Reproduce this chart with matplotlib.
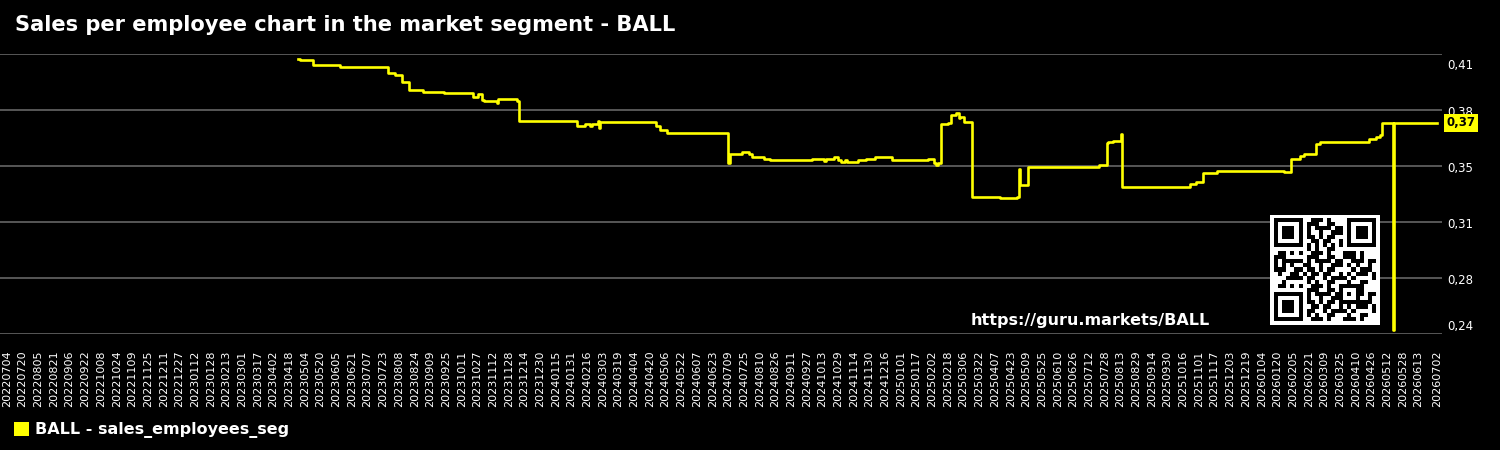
import matplotlib
matplotlib.use("Agg")
import matplotlib.pyplot as plt
import matplotlib.dates as mdates
from matplotlib.patches import Patch
from matplotlib.transforms import ScaledTranslation
import numpy as np
import pandas as pd

title = "Sales per employee chart in the market segment - BALL"
series_name = "BALL - sales_employees_seg"
url = "https://guru.markets/BALL"

# change points of the series (value holds until the next date)
dates = [
    "2023-04-27", "2023-04-29", "2023-05-12", "2023-06-09", "2023-07-28", "2023-08-04",
    "2023-08-11", "2023-08-18", "2023-09-01", "2023-09-23", "2023-10-23", "2023-10-28",
    "2023-11-01", "2023-11-03", "2023-11-16", "2023-11-17", "2023-12-06", "2023-12-08",
    "2024-02-06", "2024-02-14", "2024-02-19", "2024-02-21", "2024-02-27", "2024-02-28",
    "2024-02-29", "2024-04-26", "2024-04-30", "2024-05-07", "2024-07-09", "2024-07-11",
    "2024-07-23", "2024-07-30", "2024-08-02", "2024-08-14", "2024-08-20", "2024-10-02",
    "2024-10-15", "2024-10-17", "2024-10-25", "2024-10-29", "2024-11-01", "2024-11-05",
    "2024-11-07", "2024-11-18", "2024-11-26", "2024-12-06", "2024-12-23", "2025-01-29",
    "2025-02-04", "2025-02-06", "2025-02-08", "2025-02-11", "2025-02-18", "2025-02-21",
    "2025-02-26", "2025-03-01", "2025-03-02", "2025-03-06", "2025-03-15", "2025-04-12",
    "2025-04-29", "2025-05-02", "2025-05-03", "2025-05-11", "2025-07-22", "2025-07-30",
    "2025-07-31", "2025-08-05", "2025-08-14", "2025-08-15", "2025-10-23", "2025-10-29",
    "2025-11-05", "2025-11-19", "2026-01-27", "2026-02-03", "2026-02-12", "2026-02-16",
    "2026-02-28", "2026-03-05", "2026-04-24", "2026-05-01", "2026-05-05", "2026-05-07",
    "2026-05-18", "2026-05-19", "2026-07-02",
]
values = [
    0.4118, 0.4108, 0.4077, 0.4067, 0.4026, 0.4015,
    0.3974, 0.3923, 0.3913, 0.3905, 0.3882, 0.3898,
    0.3861, 0.3855, 0.3845, 0.3868, 0.3857, 0.3734,
    0.3703, 0.3715, 0.3701, 0.3714, 0.3734, 0.3690,
    0.3724, 0.3703, 0.3677, 0.3662, 0.3472, 0.3532,
    0.3541, 0.3533, 0.3510, 0.3502, 0.3490, 0.3500,
    0.3488, 0.3500, 0.3510, 0.3496, 0.3480, 0.3490,
    0.3480, 0.3490, 0.3500, 0.3510, 0.3490, 0.3500,
    0.3472, 0.3461, 0.3473, 0.3714, 0.3722, 0.3773,
    0.3784, 0.3749, 0.3755, 0.3724, 0.3266, 0.3256,
    0.3266, 0.3435, 0.3336, 0.3451, 0.3461, 0.3595,
    0.3605, 0.3613, 0.3656, 0.3327, 0.3344, 0.3358,
    0.3410, 0.3428, 0.3420, 0.3500, 0.3516, 0.3531,
    0.3592, 0.3603, 0.3621, 0.3634, 0.3650, 0.3722,
    0.2445, 0.3722, 0.3722,
]

tick_start = "2022-07-04"
tick_step = "16D"
tick_last = "2026-07-02"
x_range = ("2022-06-27", "2026-07-07")
y_range = (0.2421, 0.4146)

x = pd.to_datetime(dates)
last = pd.Timestamp(tick_last)
ticks = [t for t in pd.date_range(tick_start, tick_last, freq=tick_step)
         if t <= last - pd.Timedelta(tick_step)]
ticks.append(last)

fig = plt.figure(figsize=(15, 4.5), dpi=100, facecolor="black")
ax = fig.add_axes([0, 116 / 450, 1442 / 1500, 280 / 450], facecolor="black")

ax.plot(x, values, color="#ffff00", lw=1.9, drawstyle="steps-post", zorder=3)

ax.set_xlim(pd.Timestamp(x_range[0]), pd.Timestamp(x_range[1]))
ax.set_ylim(*y_range)
ax.set_yticks(np.linspace(y_range[0], y_range[1], 6))
ax.yaxis.set_major_formatter(lambda v, _: f"{v:.2f}".replace(".", ","))
ax.yaxis.tick_right()
ax.grid(axis="y", color="#666666", lw=1.2)
ax.set_xticks(ticks)
ax.xaxis.set_major_formatter(mdates.DateFormatter("%Y%m%d"))
ax.tick_params(axis="x", colors="white", labelsize=8, length=0, pad=12, labelrotation=90)
ax.tick_params(axis="y", colors="white", labelsize=8.5, length=0, pad=4)
for s in ax.spines.values():
    s.set_visible(False)

# nudge the y labels: edge labels move inside the plot area
ylabels = ax.get_yticklabels()
shifts = [9, -1, -1, -1, -1, -10]
for lab, dy in zip(ylabels, shifts):
    lab.set_transform(lab.get_transform() + ScaledTranslation(0, dy / 100, fig.dpi_scale_trans))

# last value marker
ax.annotate(f"{values[-1]:.2f}".replace(".", ","), xy=(1.0, values[-1]),
            xycoords=("axes fraction", "data"), xytext=(3, 0), textcoords="offset points",
            va="center", ha="left", fontsize=8.5, fontweight="bold", color="black",
            bbox=dict(boxstyle="square,pad=0.2", fc="#ffff00", ec="none"),
            annotation_clip=False, zorder=10)

fig.text(15 / 1500, 1 - 25 / 450, title, color="white", fontsize=15.1,
         fontweight="bold", va="center", ha="left")
fig.text(971 / 1500, 1 - 320 / 450, url, color="white", fontsize=11.5,
         fontweight="bold", va="center", ha="left")

fig.legend(handles=[Patch(facecolor="#ffff00")], labels=[series_name],
           loc="center left", bbox_to_anchor=(14 / 1500, 1 - 430 / 450),
           frameon=False, handlelength=0.95, handleheight=0.95, handletextpad=0.35,
           borderpad=0, borderaxespad=0, labelcolor="white",
           prop={"weight": "bold", "size": 11.5})

# QR-like badge
n = 25
bits = "".join(f"{b:08b}" for b in url.encode()) * 20
qr = np.array([int(c) for c in bits[: n * n]]).reshape(n, n)
def finder(r, c):
    qr[max(r - 1, 0):r + 8, max(c - 1, 0):c + 8] = 0
    qr[r:r + 7, c:c + 7] = 1
    qr[r + 1:r + 6, c + 1:c + 6] = 0
    qr[r + 2:r + 5, c + 2:c + 5] = 1
finder(0, 0)
finder(0, n - 7)
finder(n - 7, 0)
qr[6, 8:n - 8] = np.arange(8, n - 8) % 2 == 0
qr[8:n - 8, 6] = np.arange(8, n - 8) % 2 == 0
qr[n - 9:n - 4, n - 9:n - 4] = 1
qr[n - 8:n - 5, n - 8:n - 5] = 0
qr[n - 7, n - 7] = 1
qax = fig.add_axes([1270 / 1500, 1 - 325 / 450, 110 / 1500, 110 / 450])
qax.imshow(np.pad(qr, 1), cmap="gray_r", interpolation="nearest")
qax.axis("off")

fig.savefig("out.png", dpi=100, facecolor="black")
